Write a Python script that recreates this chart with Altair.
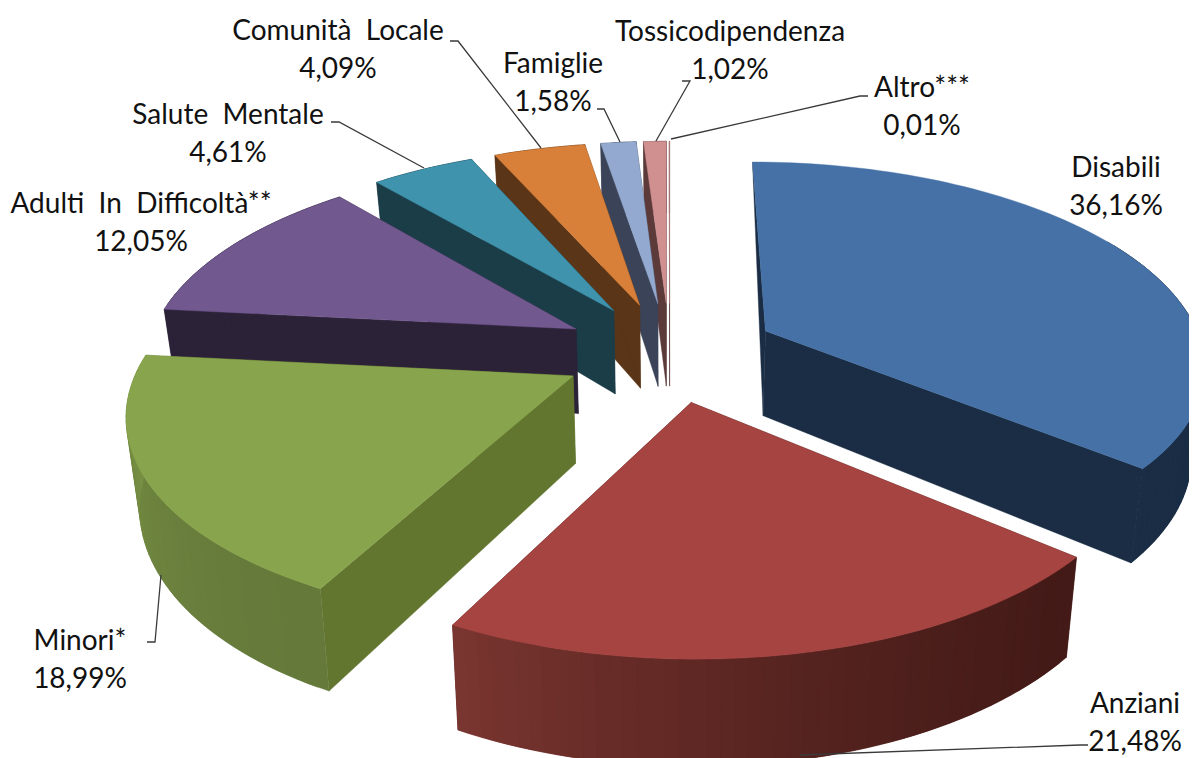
import math
import altair as alt
import pandas as pd

# ---- values
categories = ["Disabili", "Anziani", "Minori*", "Adulti \u00a0In \u00a0Difficoltà**", "Salute \u00a0Mentale",
              "Comunità \u00a0Locale", "Famiglie", "Tossicodipendenza", "Altro***"]
percent = [36.16, 21.48, 18.99, 12.05, 4.61, 4.09, 1.58, 1.02, 0.01]
pct_labels = ["36,16%", "21,48%", "18,99%", "12,05%", "4,61%", "4,09%", "1,58%", "1,02%", "0,01%"]

# ---- styles
top_colors = ["#4571a7", "#a64441", "#88a54d", "#71588f", "#4093ac", "#d88039", "#93a9cf", "#d09090", "#d09090"]
face_colors = ["#1a2d45", "#431a17", "#62762f", "#2c2238", "#1b3d48", "#5a3517", "#3b4358", "#5c3a3a", "#5c3a3a"]
wall_start = ["#1a2d45", "#431a17", "#65793a", "#2c2238", "#1b3d48", "#5a3517", "#3b4358", "#5c3a3a", "#5c3a3a"]
wall_end = ["#1a2d45", "#7a3530", "#7b9646", "#2c2238", "#1b3d48", "#5a3517", "#3b4358", "#5c3a3a", "#5c3a3a"]
rim_stretch = [1.02, 1, 1, 1, 1, 1, 1, 1, 1]
paint_order = [7, 8, 6, 5, 4, 3, 2, 0, 1]

# ---- layout of the pie (3D view parameters)
CX, CY = 669.6, 352.0
RADIUS, EXPLODE = 430.0, 107.5
PERSP, TILT_FRONT, TILT_BACK = 0.00037, 0.46, 0.47
DEPTH, TAPER = 86.0, 0.975

# ---- layout of labels and leaders, in picture pixels
label_x = [1116, 1135, 80, 141, 228, 338, 553, 730, 922]
label_y = [169, 705, 642, 205, 116, 32, 65, 33, 89]
label_gap = 37.5
leader_pts = {
    1: [(1088, 745), (1080, 745), (800, 755)],
    2: [(147, 642), (155, 642), (161, 575)],
    4: [(331, 122), (339, 122), (424, 168)],
    5: [(450, 41), (458, 41), (541, 148)],
    6: [(597, 109), (604, 109), (620, 142)],
    7: [(682, 81), (690, 81), (656, 141)],
    8: [(868, 96), (860, 96), (671, 139)],
}


def project(X, Y, bottom=False):
    s = 1.0 / (1.0 + PERSP * Y)
    tilt = TILT_BACK if Y > 0 else TILT_FRONT
    if bottom:
        return CX + TAPER * X * s, CY - tilt * Y * s + DEPTH * s
    return CX + X * s, CY - tilt * Y * s


def mix(a, b, t):
    ca = [int(a[i:i + 2], 16) for i in (1, 3, 5)]
    cb = [int(b[i:i + 2], 16) for i in (1, 3, 5)]
    return "#%02x%02x%02x" % tuple(round(p + (q - p) * t) for p, q in zip(ca, cb))


total = sum(percent)
rows = []
poly_id = 0


def add_poly(points, color):
    global poly_id
    poly_id += 1
    for i, (x, y) in enumerate(points + points[:1]):
        rows.append({"poly": poly_id, "i": i, "x": x, "y": y, "c": color})


starts = []
acc = 0.0
for p in percent:
    starts.append(acc)
    acc += p / total * 360.0

for k in paint_order:
    a0 = starts[k]
    a1 = a0 + percent[k] / total * 360.0
    mid = math.radians((a0 + a1) / 2)
    ox, oy = EXPLODE * math.sin(mid), EXPLODE * math.cos(mid)

    def rim(deg):
        t = math.radians(deg)
        return ox + rim_stretch[k] * RADIUS * math.sin(t), oy + RADIUS * math.cos(t)

    n = max(1, int((a1 - a0) / 1.5))
    angs = [a0 + (a1 - a0) * j / n for j in range(n + 1)]
    # radial cut faces
    for deg in (a0, a1):
        X, Y = rim(deg)
        face = [project(ox, oy), project(X, Y), project(X, Y, True), project(ox, oy, True)]
        if k == 0 and deg == a0:
            del face[2]  # the far corner of this face stays hidden behind the slice
        add_poly(face, face_colors[k])
    # curved outer wall, shaded along the arc; each strip overlaps the next to hide seams
    for j in range(n):
        last = min(j + 2, n)
        span = angs[j:last + 1]
        tops = [project(*rim(d)) for d in span]
        bots = [project(*rim(d), True) for d in span]
        t = ((j + 0.5) / n) ** 1.5
        if not (k == 0 and angs[j] < 60):
            add_poly(tops + bots[::-1], mix(wall_start[k], wall_end[k], t))
    # top surface
    add_poly([project(ox, oy)] + [project(*rim(d)) for d in angs], top_colors[k])

df = pd.DataFrame(rows)

x_scale = alt.Scale(domain=[8, 1189], nice=False, zero=False)
y_scale = alt.Scale(domain=[758, 8], nice=False, zero=False)
x_enc = alt.X("x:Q", scale=x_scale, axis=None)
y_enc = alt.Y("y:Q", scale=y_scale, axis=None)

polys = alt.Chart(df).mark_line(strokeWidth=0.4, clip=True, interpolate="linear").encode(
    x=x_enc, y=y_enc,
    order=alt.Order("i:Q"),
    detail="poly:N",
    color=alt.Color("c:N", scale=None),
    fill=alt.Fill("c:N", scale=None),
)

lead_rows = []
for k, pts in leader_pts.items():
    for i, (x, y) in enumerate(pts):
        lead_rows.append({"k": k, "i": i, "x": x, "y": y})
leaders = alt.Chart(pd.DataFrame(lead_rows)).mark_line(color="#3a3a3a", strokeWidth=1.3, clip=True).encode(
    x=x_enc, y=y_enc, order=alt.Order("i:Q"), detail="k:N"
)

text_rows = []
for k, name in enumerate(categories):
    text_rows.append({"x": label_x[k], "y": label_y[k], "t": name})
    text_rows.append({"x": label_x[k], "y": label_y[k] + label_gap, "t": pct_labels[k]})
texts = alt.Chart(pd.DataFrame(text_rows)).mark_text(
    font="Lato", fontSize=28, color="#111111", align="center", baseline="middle"
).encode(x=x_enc, y=y_enc, text="t:N")

chart = (polys + leaders + texts).properties(
    width=1181, height=750, padding=0, autosize=alt.AutoSizeParams(type="none"),
    background="#ffffff",
).configure_view(stroke=None)

chart.save("out.html", embed_options={"renderer": "svg", "actions": False})
